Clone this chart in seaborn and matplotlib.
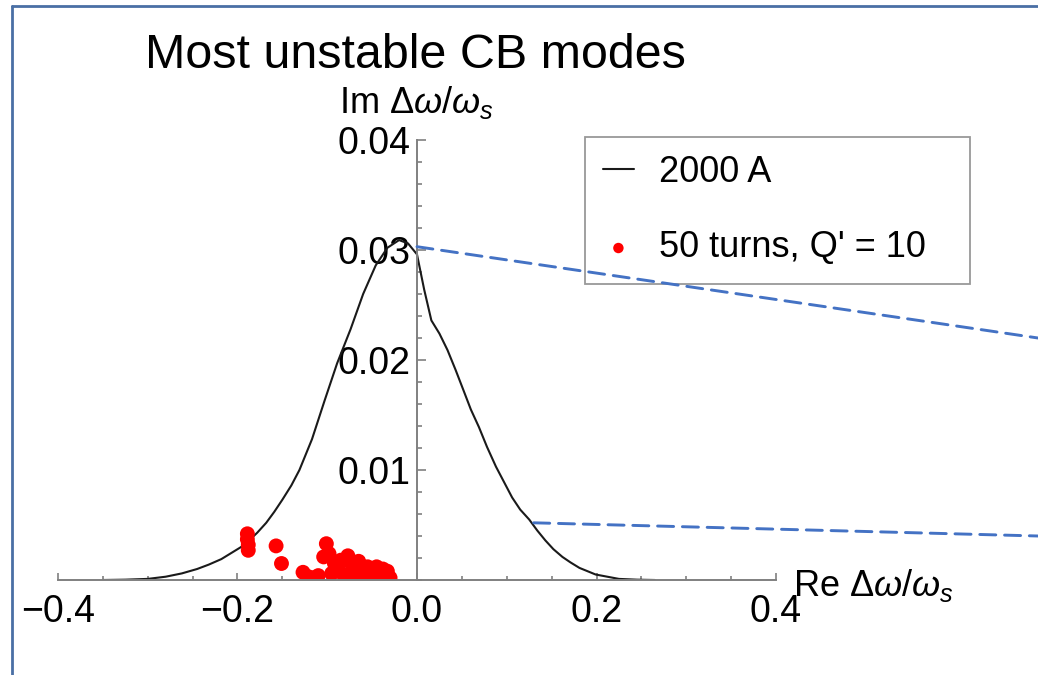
import numpy as np
import pandas as pd
import matplotlib
matplotlib.use("Agg")
import matplotlib.pyplot as plt
from matplotlib.lines import Line2D
from matplotlib.patches import ConnectionPatch
from matplotlib.ticker import FixedLocator, MultipleLocator, FixedFormatter
import seaborn as sns

# Complex tune shift of the 2000 A stability diagram boundary
curve_re = [-0.350, -0.325, -0.300, -0.280, -0.262, -0.245, -0.232, -0.218, -0.206,
            -0.196, -0.187, -0.178, -0.168, -0.159, -0.150, -0.140, -0.131, -0.124,
            -0.117, -0.103, -0.089, -0.074, -0.060, -0.046, -0.033, -0.020, -0.010,
            0.000, 0.008, 0.016, 0.025, 0.034, 0.043, 0.052, 0.060, 0.069, 0.078,
            0.088, 0.097, 0.106, 0.115, 0.125, 0.134, 0.143, 0.152, 0.162, 0.171,
            0.181, 0.190, 0.199, 0.212, 0.225, 0.245, 0.265]
curve_im = [0.00000, 0.00003, 0.00010, 0.00030, 0.00060, 0.00100, 0.00140, 0.00190, 0.00250,
            0.00300, 0.00360, 0.00430, 0.00520, 0.00620, 0.00730, 0.00860, 0.01000, 0.01140,
            0.01280, 0.01630, 0.01970, 0.02280, 0.02600, 0.02860, 0.03020, 0.03090, 0.03060,
            0.02960, 0.02640, 0.02360, 0.02240, 0.02090, 0.01910, 0.01720, 0.01550, 0.01390, 0.01210,
            0.01030, 0.00890, 0.00750, 0.00640, 0.00550, 0.00450, 0.00360, 0.00280, 0.00210, 0.00160,
            0.00110, 0.00080, 0.00050, 0.00030, 0.00010, 0.00003, 0.00000]

# Most unstable coupled-bunch modes after 50 turns, Q' = 10
modes_re = [-0.189, -0.189, -0.188, -0.188, -0.157, -0.151, -0.127, -0.121,
            -0.101, -0.104, -0.098, -0.110, -0.095, -0.088, -0.077, -0.074,
            -0.070, -0.082, -0.066, -0.061, -0.055, -0.050, -0.045, -0.040,
            -0.035, -0.030, -0.060, -0.070, -0.047, -0.092, -0.085, -0.065,
            -0.058, -0.052, -0.042, -0.038, -0.033, -0.115]
modes_im = [0.0042, 0.0037, 0.0032, 0.0027, 0.0031, 0.0015, 0.0007, 0.0003,
            0.0033, 0.0021, 0.0024, 0.0004, 0.0006, 0.0012, 0.0022, 0.0016,
            0.0010, 0.0005, 0.0007, 0.0011, 0.0012, 0.0008, 0.0012, 0.0007,
            0.0005, 0.0002, 0.0003, 0.0003, 0.0003, 0.0015, 0.0018, 0.0017,
            0.0006, 0.0004, 0.0003, 0.0010, 0.0008, 0.0002]

x_ticks = [-0.4, -0.2, 0.0, 0.2, 0.4]
x_tick_labels = ["\u22120.4", "\u22120.2", "0.0", "0.2", "0.4"]
y_ticks = [0.01, 0.02, 0.03, 0.04]
y_tick_labels = ["0.01", "0.02", "0.03", "0.04"]

curve_label = "2000 A"
modes_label = "50 turns, Q' = 10"
title = "Most unstable CB modes"

sns.set_theme(style="white")
plt.rcParams["font.family"] = ["Liberation Sans", "DejaVu Sans"]
plt.rcParams["text.color"] = "black"
plt.rcParams["mathtext.fontset"] = "custom"
plt.rcParams["mathtext.rm"] = "Liberation Sans"
plt.rcParams["mathtext.it"] = "Liberation Sans:italic"
plt.rcParams["mathtext.bf"] = "Liberation Sans:bold"

W, H = 1038, 675
fig = plt.figure(figsize=(W / 100, H / 100), dpi=100)
fig.patch.set_facecolor("white")

ax = fig.add_axes([58 / W, 1 - 580 / H, (776 - 58) / W, (580 - 140) / H])
ax.set_facecolor("none")

curve_df = pd.DataFrame({"re": curve_re, "im": curve_im})
modes_df = pd.DataFrame({"re": modes_re, "im": modes_im})

sns.lineplot(data=curve_df, x="re", y="im", sort=False, color="#1a1a1a",
             linewidth=1.5, ax=ax, label=curve_label, zorder=2)
sns.scatterplot(data=modes_df, x="re", y="im", color="#ff0000", s=115,
                edgecolor="none", linewidth=0, ax=ax, label=modes_label, zorder=3)

ax.set_xlim(-0.4, 0.4)
ax.set_ylim(0, 0.04)
ax.set_xlabel("")
ax.set_ylabel("")

axis_color = "#808080"
for side in ("top", "right"):
    ax.spines[side].set_visible(False)
ax.spines["left"].set_position(("data", 0))
ax.spines["left"].set_bounds(0, 0.04)
for side in ("left", "bottom"):
    ax.spines[side].set_color(axis_color)
    ax.spines[side].set_linewidth(1.4)
    ax.spines[side].set_zorder(4)

ax.xaxis.set_major_locator(FixedLocator(x_ticks))
ax.xaxis.set_major_formatter(FixedFormatter(x_tick_labels))
ax.xaxis.set_minor_locator(MultipleLocator(0.05))
ax.yaxis.set_major_locator(FixedLocator(y_ticks))
ax.yaxis.set_major_formatter(FixedFormatter(y_tick_labels))
ax.yaxis.set_minor_locator(MultipleLocator(0.002))

ax.tick_params(axis="x", which="both", direction="in", bottom=True, top=False,
               color=axis_color, width=1.2, labelsize=27, pad=10, labelcolor="black")
ax.tick_params(axis="x", which="major", length=5)
ax.tick_params(axis="x", which="minor", length=3.2)
ax.tick_params(axis="y", which="both", direction="in", left=True, right=False,
               color=axis_color, width=1.2, labelsize=27, pad=5, labelcolor="black")
ax.tick_params(axis="y", which="major", length=6.5)
ax.tick_params(axis="y", which="minor", length=3.8)

leg = ax.legend(loc="upper left",
                bbox_to_anchor=(585 / W, 1 - 278 / H, 385 / W, 141 / H),
                bbox_transform=fig.transFigure, mode="expand", fontsize=26,
                frameon=True, fancybox=False, framealpha=1, edgecolor="#999999",
                handlelength=0.85, handletextpad=0.7, labelspacing=1.12,
                borderpad=0.5, borderaxespad=0, markerscale=0.7)
leg.get_frame().set_linewidth(1.3)

# axis labels and title
fig.text(416 / W, 1 - 113 / H, r"Im $\Delta\omega/\omega_s$", ha="center",
         va="baseline", fontsize=26)
fig.text(793 / W, 1 - 596 / H, r"Re $\Delta\omega/\omega_s$", ha="left",
         va="baseline", fontsize=26)
fig.text(145 / W, 1 - 68 / H, title, ha="left", va="baseline", fontsize=34.8)

# zoom guide lines leading off to the right
guide_color = "#4472c4"
guide_start = [(0.0, 0.0303), (0.130, 0.0052)]
guide_end = [(1.0, 1 - 338 / H), (1.0, 1 - 536 / H)]
for a, b in zip(guide_start, guide_end):
    cp = ConnectionPatch(xyA=a, coordsA=ax.transData, xyB=b, coordsB=fig.transFigure,
                         color=guide_color, linewidth=2.1, linestyle=(0, (5.5, 3)),
                         zorder=1)
    fig.add_artist(cp)

# slide frame
frame_color = "#4a6fa5"
fig.add_artist(Line2D([12 / W, 12 / W], [0, 1 - 6 / H], transform=fig.transFigure,
                      color=frame_color, linewidth=2))
fig.add_artist(Line2D([12 / W, 1], [1 - 6 / H, 1 - 6 / H], transform=fig.transFigure,
                      color=frame_color, linewidth=2))

fig.savefig("out.png", dpi=100, facecolor="white")
